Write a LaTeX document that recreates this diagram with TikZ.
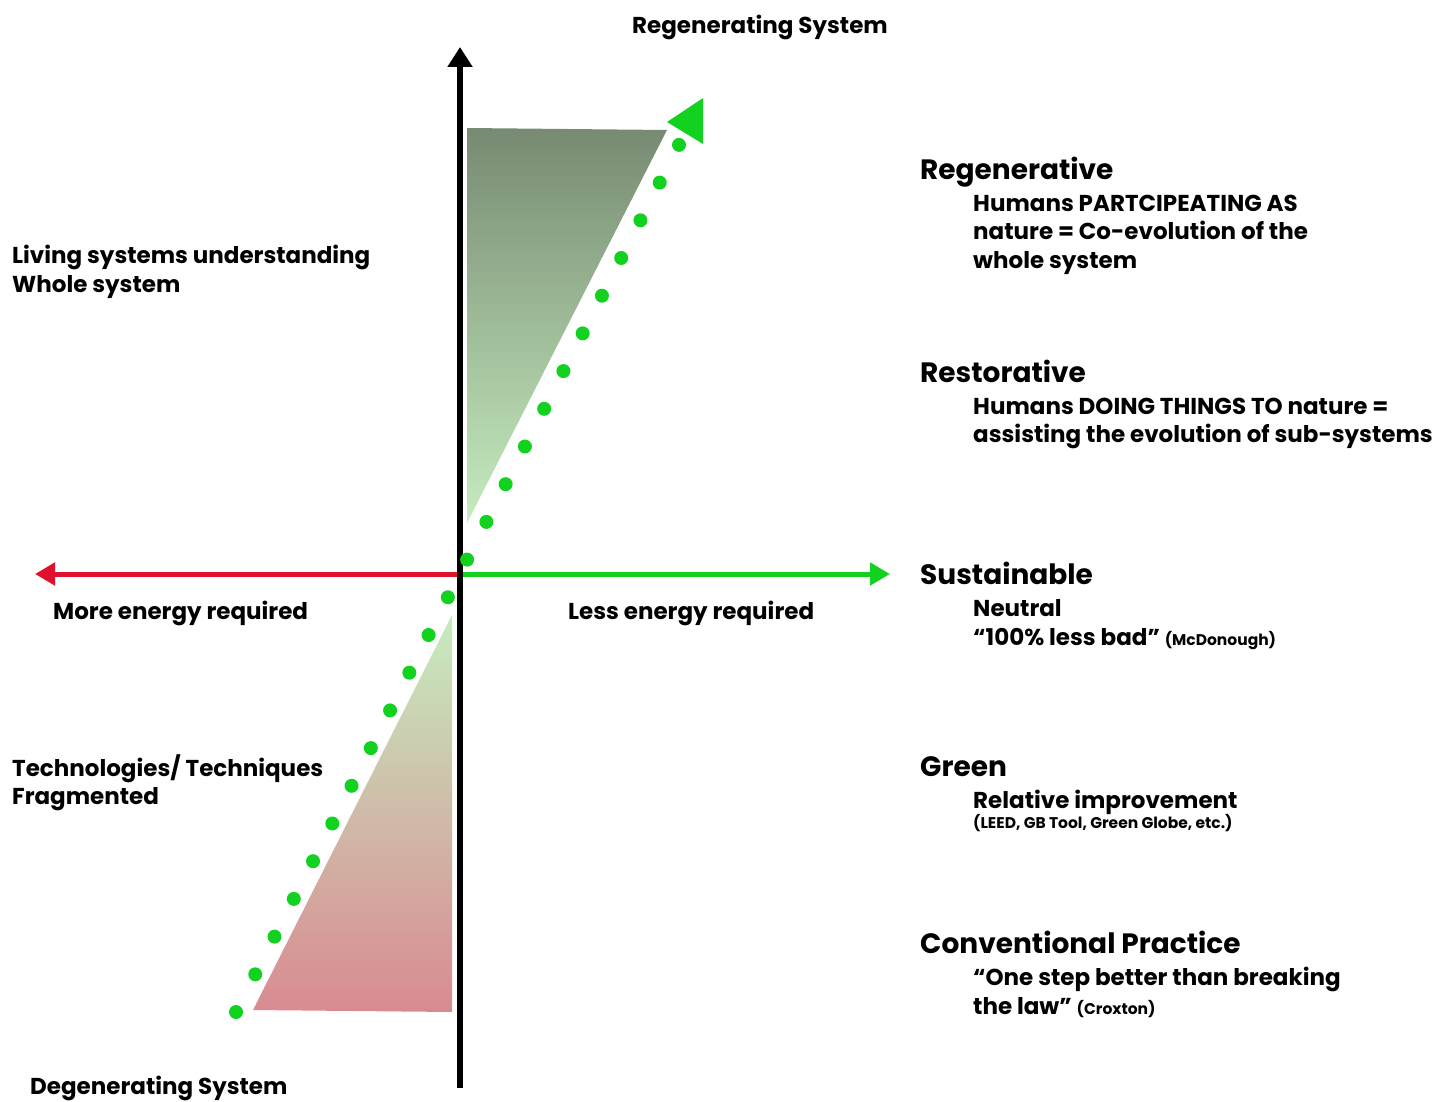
\documentclass[tikz,border=0pt]{standalone}
\usepackage{fontspec}
\setmainfont{Poppins}
\usepackage{tikz}
\usetikzlibrary{
    arrows.meta,
    positioning
}
\definecolor{dotgreen}{HTML}{12D11F}
\definecolor{axisred}{HTML}{E0102F}
\definecolor{darksage}{HTML}{778A72}
\definecolor{midsage}{HTML}{93B18B}
\definecolor{palegreen}{HTML}{C6ECBF}
\definecolor{rosepink}{HTML}{D98A91}
\newcommand{\note}[1]{{\fontsize{15.5}{18}\selectfont #1}}
\tikzset{
    head/.style={anchor=base west, inner sep=0pt, font=\fontsize{28}{32}\selectfont\bfseries},
    body/.style={anchor=base west, inner sep=0pt, font=\fontsize{23}{27}\selectfont\bfseries},
    dot/.style={circle, fill=dotgreen, inner sep=0pt, minimum size=14pt}
}

\begin{document}
\begin{tikzpicture}[x=1pt, y=-1pt]
                        \useasboundingbox (0,0) rectangle (1435,1102);

                        % wedges
                        \shade[top color=darksage, middle color=midsage, bottom color=palegreen]
                        (467,128) -- (667,130) -- (467,523) -- cycle;
                        \shade[top color=palegreen, bottom color=rosepink]
                        (452,615) -- (452,1012) -- (253,1010) -- cycle;

                        \coordinate (o) at (460,574);
                        \coordinate (w) at (35,574);
                        \coordinate (e) at (890,574);
                        \coordinate (n) at (460,47);
                        \coordinate (s) at (460,1088);

                        \draw[axisred, line width=5pt, -{Triangle[width=22pt,length=20pt]}] (o) -- (w);
                        \draw[dotgreen, line width=5pt, -{Triangle[width=22pt,length=20pt]}] (o) -- (e);
                        \draw[black, line width=6pt, -{Triangle[width=24pt,length=20pt]}] (s) -- (n);

                        % dotted trend
                        \foreach \i in {0,...,23}
                            \node[dot] (d\i) at (236+\i*19.26, 1012-\i*37.7) {};
                        \fill[dotgreen] (667,122) -- (703,98) -- (703,144) -- cycle;

                        % axis captions
                        \node[body] (top) at (632,34) {Regenerating System};
                        \node[body] (bot) at (30,1094) {Degenerating System};
                        \node[body] (more) at (53,619) {More energy required};
                        \node[body] (less) at (568,619) {Less energy required};
                        \node[body] (liv1) at (12,263) {Living systems understanding};
                        \node[body] (liv2) at (12,292) {Whole system};
                        \node[body] (tech1) at (12,776) {Technologies/ Techniques};
                        \node[body] (tech2) at (12,804) {Fragmented};

                        % levels
                        \node[head] (regen) at (920,180) {Regenerative};
                        \node[body] (regen1) at (973,212) {Humans PARTCIPEATING AS};
                        \node[body] (regen2) at (973,240) {nature = Co-evolution of the};
                        \node[body] (regen3) at (973,269) {whole system};

                        \node[head] (resto) at (920,382) {Restorative};
                        \node[body] (resto1) at (973,414) {Humans DOING THINGS TO nature =};
                        \node[body] (resto2) at (973,442) {assisting the evolution of sub-systems};

                        \node[head] (sust) at (920,584) {Sustainable};
                        \node[body] (sust1) at (973,616) {Neutral};
                        \node[body] (sust2) at (973,645) {“100\% less bad” \note{(McDonough)}};

                        \node[head] (green) at (920,776) {Green};
                        \node[body] (green1) at (973,808) {Relative improvement};
                        \node[body, font=\fontsize{15.5}{18}\selectfont\bfseries] (green2) at (973,828) {(LEED, GB Tool, Green Globe, etc.)};

                        \node[head] (conv) at (920,953) {Conventional Practice};
                        \node[body] (conv1) at (973,985) {“One step better than breaking};
                        \node[body] (conv2) at (973,1014) {the law” \note{(Croxton)}};
                    \end{tikzpicture}
\end{document}
